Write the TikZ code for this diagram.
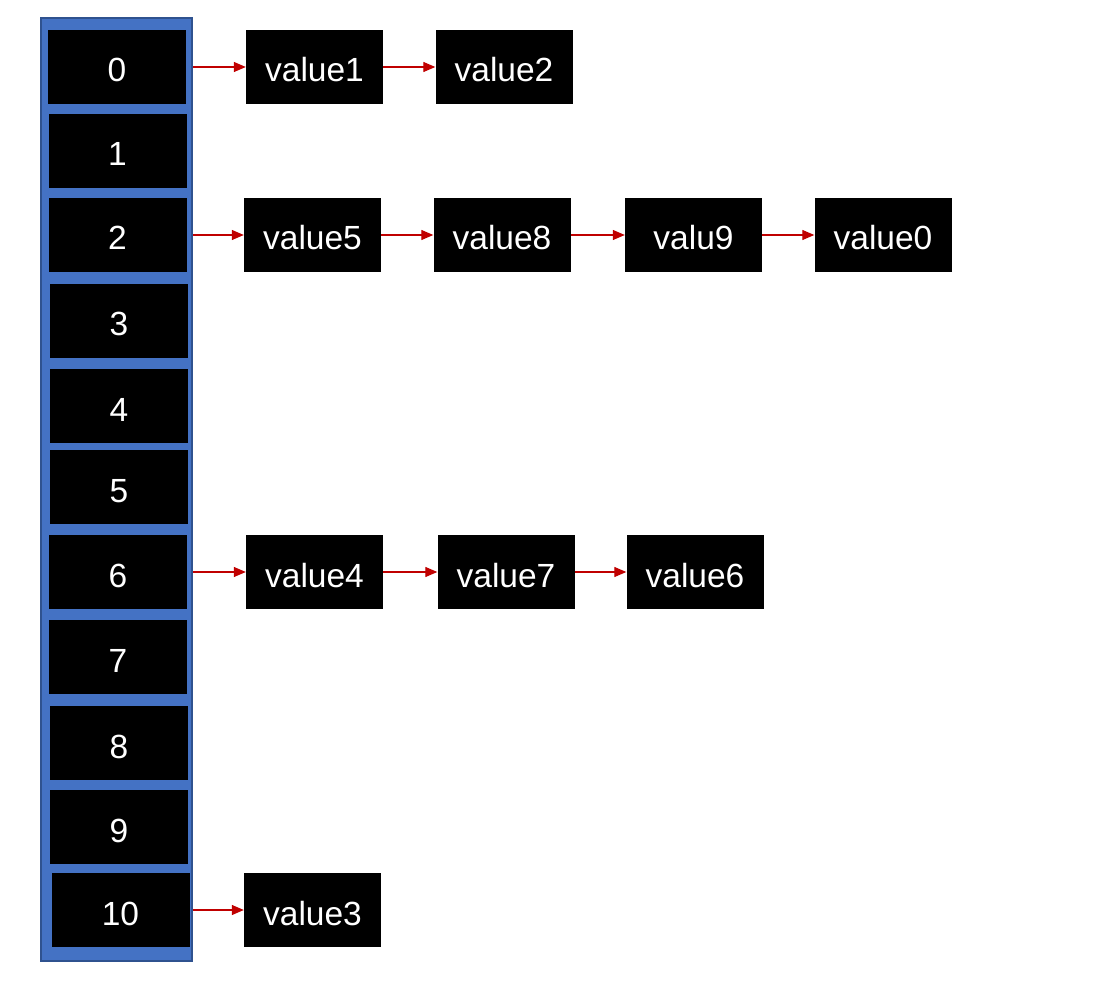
\documentclass[tikz,border=0pt]{standalone}
\usepackage{fontspec}
\setmainfont{Liberation Sans}
\usetikzlibrary{arrows.meta,positioning}
\definecolor{slotblue}{RGB}{68,114,196}
\definecolor{slotedge}{RGB}{47,82,143}
\definecolor{linkred}{RGB}{192,0,0}
\begin{document}
\begin{tikzpicture}[x=1pt,y=-1pt,
  font=\fontsize{33.5}{40}\selectfont,
  cell/.style={fill=black,text=white,minimum width=138,minimum height=74,
               inner sep=0pt,text height=30pt,text depth=0pt},
  entry/.style={cell,minimum width=137},
  arr/.style={-{Triangle[length=12pt,width=10pt]},draw=linkred,line width=1.2pt}]
\useasboundingbox (0,0) rectangle (1120,984);

% bucket array
\node[fill=slotblue,draw=slotedge,line width=2pt,minimum width=151,
      minimum height=943,inner sep=0pt] (frame) at (116.5,489.5) {};
\foreach \i/\xc/\yc in {0/117/67,1/117.5/151,2/117.5/235,3/119/321,4/119/406,
  5/119/487,6/118/572,7/118/657,8/119/743,9/119/827,10/120.5/910}{
  \node[cell] (slot\i) at (\xc,\yc) {\i};
}

% chained entries
\node[entry] (v1) at (314.5,67) {value1};
\node[entry] (v2) at (504,67) {value2};
\node[entry] (v5) at (312.5,235) {value5};
\node[entry] (v8) at (502,235) {value8};
\node[entry] (v9) at (693.5,235) {valu9};
\node[entry] (v0) at (883,235) {value0};
\node[entry] (v4) at (314.5,572) {value4};
\node[entry] (v7) at (506,572) {value7};
\node[entry] (v6) at (695,572) {value6};
\node[entry] (v3) at (312.5,910) {value3};

\foreach \s/\v in {0/v1,2/v5,6/v4,10/v3}{
  \draw[arr] (slot\s.east -| frame.east) -- (\v.west);
}
\foreach \a/\b in {v1/v2,v5/v8,v8/v9,v9/v0,v4/v7,v7/v6}{
  \draw[arr] (\a.east) -- (\b.west);
}
\end{tikzpicture}
\end{document}
